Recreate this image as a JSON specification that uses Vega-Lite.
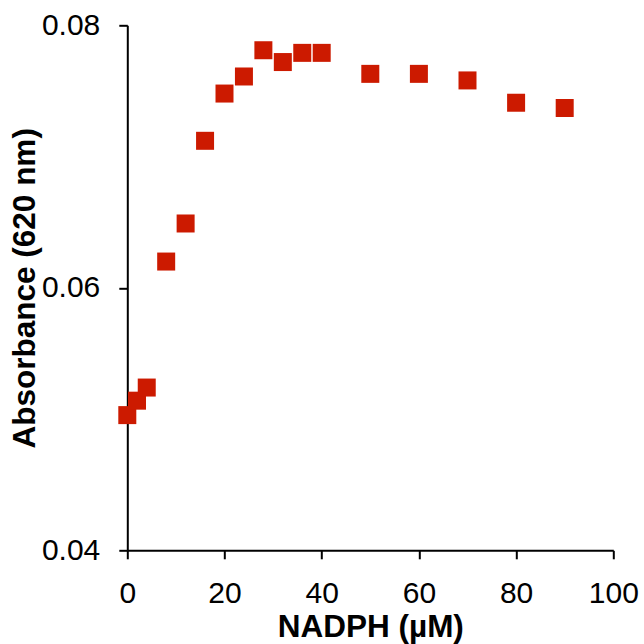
{
  "$schema": "https://vega.github.io/schema/vega-lite/v6.json",
  "autosize": "none",
  "width": 486,
  "height": 525,
  "padding": {"left": 127.3, "top": 25.3, "right": 30.7, "bottom": 93.7},
  "background": "white",
  "config": {
    "view": {"stroke": null},
    "axis": {
      "grid": false,
      "domainColor": "black",
      "domainWidth": 2,
      "tickColor": "black",
      "tickWidth": 2,
      "tickSize": 8.5,
      "labelFont": "Liberation Sans",
      "labelFontSize": 30,
      "labelColor": "black",
      "labelPadding": 19,
      "titleFont": "Liberation Sans",
      "titleFontSize": 31.5,
      "titleFontWeight": "bold",
      "titleColor": "black"
    }
  },
  "data": {
    "values": [
      {"nadph": 0, "abs": 0.0503},
      {"nadph": 2, "abs": 0.0514},
      {"nadph": 4, "abs": 0.0524},
      {"nadph": 8, "abs": 0.0620},
      {"nadph": 12, "abs": 0.0649},
      {"nadph": 16, "abs": 0.0712},
      {"nadph": 20, "abs": 0.0748},
      {"nadph": 24, "abs": 0.0761},
      {"nadph": 28, "abs": 0.0781},
      {"nadph": 32, "abs": 0.0772},
      {"nadph": 36, "abs": 0.0779},
      {"nadph": 40, "abs": 0.0779},
      {"nadph": 50, "abs": 0.0763},
      {"nadph": 60, "abs": 0.0763},
      {"nadph": 70, "abs": 0.0758},
      {"nadph": 80, "abs": 0.0741},
      {"nadph": 90, "abs": 0.0737}
    ]
  },
  "mark": {"type": "point", "shape": "square", "filled": true, "size": 324, "color": "#cc1a00", "opacity": 1},
  "encoding": {
    "x": {
      "field": "nadph",
      "type": "quantitative",
      "scale": {"domain": [0, 100], "nice": false, "zero": false},
      "axis": {"title": "NADPH (µM)", "values": [0, 20, 40, 60, 80, 100], "labelPadding": 20, "titlePadding": 3, "labelFlush": false}
    },
    "y": {
      "field": "abs",
      "type": "quantitative",
      "scale": {"domain": [0.04, 0.08], "nice": false, "zero": false},
      "axis": {"title": "Absorbance (620 nm)", "values": [0.04, 0.06, 0.08], "format": ".2f", "titlePadding": 0, "labelFlush": false}
    }
  }
}
